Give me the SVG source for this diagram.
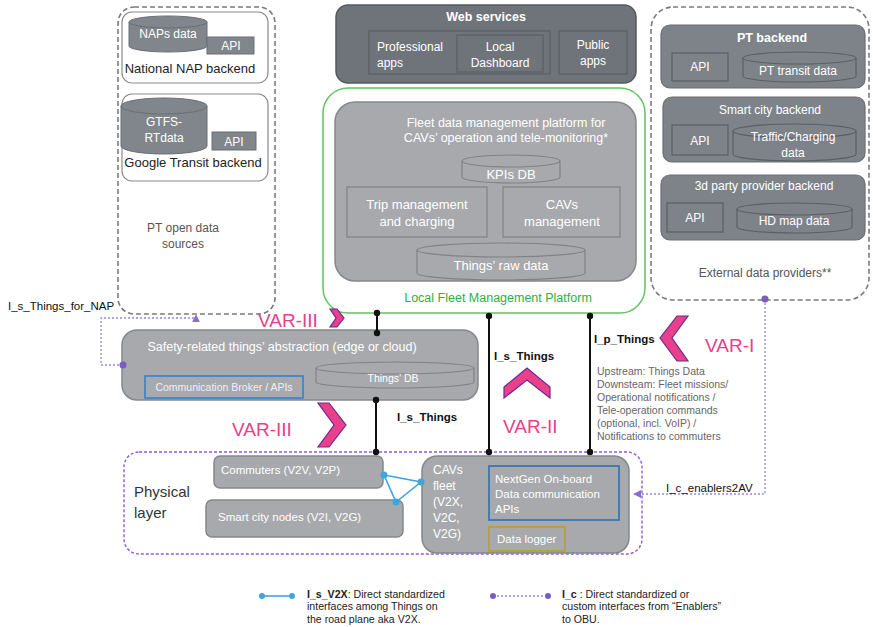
<svg xmlns="http://www.w3.org/2000/svg" width="873" height="627" viewBox="0 0 873 627">
<defs>
<style>
text{font-family:"Liberation Sans",Arial,sans-serif}
.w{fill:#fff}
.k{fill:#222}
.mid{fill:#a7a9ac;stroke:#85888b;stroke-width:1.5}
.dark{fill:#6f747a;stroke:#55595e;stroke-width:1.5}
.ext{fill:#7e8389;stroke:#6a6e73;stroke-width:1.2}
.inr{fill:none;stroke:#5b5f64;stroke-width:1.2}
.inrm{fill:none;stroke:#808386;stroke-width:1.2}
.dash{fill:none;stroke:#7a7a7a;stroke-width:1.6;stroke-dasharray:5 3}
.wb{fill:#fff;stroke:#8a8a8a;stroke-width:1.2}
.blk{stroke:#111;stroke-width:2;fill:none}
.pur{stroke:#9b86d9;stroke-width:1.3;stroke-dasharray:2 2;fill:none}
.v2x{stroke:#3fa5dd;stroke-width:1.6;fill:none}
.chev{fill:#e8408a;stroke:#6b2a94;stroke-width:1.2}
.var{fill:#e8408a;font-size:19px}
.leg{fill:#222;font-size:10.6px}
</style>
<marker id="arr" viewBox="0 0 10 10" refX="9" refY="5" markerWidth="6" markerHeight="6" orient="auto"><path d="M0,0 L10,5 L0,10 z" fill="#8a6fd0"/></marker>
</defs>

<g id="pt-open-data">
<rect x="118" y="7" width="157" height="307" rx="16" class="dash"/>
<g id="nap-backend">
<rect x="122" y="12" width="146" height="71" rx="10" class="wb"/>
<path d="M129,22 a39,6 0 0,1 78,0 v24 a39,6 0 0,1 -78,0 z" fill="#80868c" stroke="#6a6f74"/>
<path d="M129,22 a39,6 0 0,0 78,0" fill="none" stroke="#6a6f74"/>
<text x="168" y="38" class="w" font-size="12" text-anchor="middle">NAPs data</text>
<rect x="207" y="37" width="47" height="17" fill="#80868c" stroke="#6a6f74"/>
<text x="231" y="50" class="w" font-size="12" text-anchor="middle">API</text>
<text x="190" y="73" class="k" font-size="13" text-anchor="middle">National NAP backend</text>
</g>
<g id="google-transit">
<rect x="122" y="94" width="146" height="87" rx="10" class="wb"/>
<path d="M121,106 a43,8 0 0,1 86,0 v40 a43,8 0 0,1 -86,0 z" fill="#80868c" stroke="#6a6f74"/>
<path d="M121,106 a43,8 0 0,0 86,0" fill="none" stroke="#6a6f74"/>
<text x="164" y="126" class="w" font-size="12" text-anchor="middle">GTFS-</text>
<text x="164" y="142" class="w" font-size="12" text-anchor="middle">RTdata</text>
<rect x="212" y="132" width="44" height="18" fill="#80868c" stroke="#6a6f74"/>
<text x="234" y="146" class="w" font-size="12" text-anchor="middle">API</text>
<text x="193" y="167" class="k" font-size="13" text-anchor="middle">Google Transit backend</text>
</g>
<text x="183" y="232" fill="#555" font-size="12" text-anchor="middle">PT open data</text>
<text x="183" y="248" fill="#555" font-size="12" text-anchor="middle">sources</text>
</g>

<g id="web-services">
<rect x="336" y="5" width="300" height="78" rx="12" class="dark"/>
<text x="486" y="21" class="w" font-size="12.5" font-weight="bold" text-anchor="middle">Web services</text>
<rect x="369" y="31" width="181" height="43" class="inr"/>
<rect x="457" y="35" width="86" height="37" class="inr"/>
<rect x="559" y="31" width="68" height="43" class="inr"/>
<text x="377" y="51" class="w" font-size="12">Professional</text>
<text x="377" y="67" class="w" font-size="12">apps</text>
<text x="500" y="51" class="w" font-size="12" text-anchor="middle">Local</text>
<text x="500" y="67" class="w" font-size="12" text-anchor="middle">Dashboard</text>
<text x="593" y="49" class="w" font-size="12" text-anchor="middle">Public</text>
<text x="593" y="65" class="w" font-size="12" text-anchor="middle">apps</text>
</g>

<g id="local-fmp">
<rect x="323" y="88" width="322" height="225" rx="25" fill="#fff" stroke="#62c462" stroke-width="1.5"/>
<rect x="335" y="102" width="301" height="179" rx="20" class="mid"/>
<text x="506" y="127" class="w" font-size="12.5" text-anchor="middle">Fleet data management platform for</text>
<text x="506" y="142" class="w" font-size="12.5" text-anchor="middle">CAVs’ operation and tele-monitoring*</text>
<path d="M462,161 a49,6 0 0,1 98,0 v16 a49,6 0 0,1 -98,0 z" class="inrm"/>
<path d="M462,161 a49,6 0 0,0 98,0" class="inrm"/>
<text x="511" y="179" class="w" font-size="13" text-anchor="middle">KPIs DB</text>
<rect x="347" y="187" width="140" height="50" class="inrm"/>
<text x="417" y="209" class="w" font-size="13" text-anchor="middle">Trip management</text>
<text x="417" y="226" class="w" font-size="13" text-anchor="middle">and charging</text>
<rect x="503" y="187" width="117" height="50" class="inrm"/>
<text x="562" y="209" class="w" font-size="13" text-anchor="middle">CAVs</text>
<text x="562" y="226" class="w" font-size="13" text-anchor="middle">management</text>
<path d="M417,250 a84,7 0 0,1 168,0 v23 a84,7 0 0,1 -168,0 z" class="inrm"/>
<path d="M417,250 a84,7 0 0,0 168,0" class="inrm"/>
<text x="501" y="270" class="w" font-size="13" text-anchor="middle">Things’ raw data</text>
<text x="498" y="302" fill="#2fae4a" font-size="12.5" text-anchor="middle">Local Fleet Management Platform</text>
</g>

<g id="external-providers">
<rect x="651" y="7" width="218" height="293" rx="22" class="dash"/>
<g id="pt-backend">
<rect x="661" y="25" width="204" height="63" rx="9" class="ext"/>
<text x="772" y="42" class="w" font-size="12.5" font-weight="bold" text-anchor="middle">PT backend</text>
<rect x="672" y="53" width="56" height="28" class="inr"/>
<text x="700" y="71" class="w" font-size="12" text-anchor="middle">API</text>
<path d="M743,58 a56.5,6 0 0,1 113,0 v18 a56.5,6 0 0,1 -113,0 z" class="inr"/>
<path d="M743,58 a56.5,6 0 0,0 113,0" class="inr"/>
<text x="798" y="75" class="w" font-size="12" text-anchor="middle">PT transit data</text>
</g>
<g id="smart-city-backend">
<rect x="663" y="97" width="202" height="65" rx="9" class="ext"/>
<text x="770" y="114" class="w" font-size="12" text-anchor="middle">Smart city backend</text>
<rect x="672" y="125" width="56" height="30" class="inr"/>
<text x="700" y="145" class="w" font-size="12" text-anchor="middle">API</text>
<path d="M733,131 a61.5,7 0 0,1 123,0 v23 a61.5,7 0 0,1 -123,0 z" class="inr"/>
<path d="M733,131 a61.5,7 0 0,0 123,0" class="inr"/>
<text x="793" y="141" class="w" font-size="12" text-anchor="middle">Traffic/Charging</text>
<text x="793" y="157" class="w" font-size="12" text-anchor="middle">data</text>
</g>
<g id="third-party-backend">
<rect x="661" y="175" width="204" height="65" rx="9" class="ext"/>
<text x="764" y="190" class="w" font-size="12" text-anchor="middle">3d party provider backend</text>
<rect x="667" y="203" width="56" height="29" class="inr"/>
<text x="695" y="222" class="w" font-size="12" text-anchor="middle">API</text>
<path d="M737,209 a57.5,6 0 0,1 115,0 v18 a57.5,6 0 0,1 -115,0 z" class="inr"/>
<path d="M737,209 a57.5,6 0 0,0 115,0" class="inr"/>
<text x="794" y="225" class="w" font-size="12" text-anchor="middle">HD map data</text>
</g>
<text x="765" y="277" fill="#555" font-size="12" text-anchor="middle">External data providers**</text>
</g>

<g id="safety-abstraction">
<rect x="122" y="330" width="356" height="70" rx="15" class="mid"/>
<text x="282" y="351" class="w" font-size="12.5" text-anchor="middle">Safety-related things’ abstraction (edge or cloud)</text>
<rect x="145" y="376" width="158" height="22" fill="none" stroke="#2f7fcc" stroke-width="1.5"/>
<text x="224" y="391" fill="#eef" font-size="10.5" text-anchor="middle">Communication Broker / APIs</text>
<path d="M316,368 a79,6 0 0,1 158,0 v14 a79,6 0 0,1 -158,0 z" class="inrm"/>
<path d="M316,368 a79,6 0 0,0 158,0" class="inrm"/>
<text x="393" y="382" class="w" font-size="10.5" text-anchor="middle">Things’ DB</text>
</g>

<g id="physical-layer">
<rect x="124" y="452" width="518" height="102" rx="15" fill="none" stroke="#8a5ce0" stroke-width="1.4" stroke-dasharray="3 2"/>
<text x="134" y="497" fill="#333" font-size="15">Physical</text>
<text x="134" y="518" fill="#333" font-size="15">layer</text>
<g id="commuters">
<rect x="214" y="456" width="169" height="32" rx="6" class="mid"/>
<text x="221" y="474" class="w" font-size="11.5">Commuters (V2V, V2P)</text>
</g>
<g id="smart-city-nodes">
<rect x="206" y="500" width="197" height="37" rx="6" class="mid"/>
<text x="218" y="521" class="w" font-size="11.5">Smart city nodes (V2I, V2G)</text>
</g>
<g id="cavs-fleet">
<rect x="422" y="456" width="207" height="97" rx="15" class="mid"/>
<text x="433" y="474" class="w" font-size="12">CAVs</text>
<text x="433" y="490" class="w" font-size="12">fleet</text>
<text x="433" y="506" class="w" font-size="12">(V2X,</text>
<text x="433" y="522" class="w" font-size="12">V2C,</text>
<text x="433" y="538" class="w" font-size="12">V2G)</text>
<rect x="489" y="466" width="130" height="54" fill="none" stroke="#2f6fb8" stroke-width="1.6"/>
<text x="495" y="483" class="w" font-size="11.5">NextGen On-board</text>
<text x="495" y="498" class="w" font-size="11.5">Data communication</text>
<text x="495" y="513" class="w" font-size="11.5">APIs</text>
<rect x="489" y="527" width="76" height="24" fill="none" stroke="#b5a42a" stroke-width="1.6"/>
<text x="497" y="543" class="w" font-size="11.5">Data logger</text>
</g>
</g>

<g id="connectors">
<line x1="377" y1="313" x2="377" y2="333" class="blk"/>
<circle cx="377" cy="313" r="3.2" fill="#111"/>
<circle cx="377" cy="333" r="3.2" fill="#111"/>
<line x1="376" y1="400" x2="376" y2="452" class="blk"/>
<circle cx="376" cy="400" r="3.2" fill="#111"/>
<circle cx="376" cy="452" r="3.2" fill="#111"/>
<line x1="489" y1="316" x2="489" y2="452" class="blk"/>
<circle cx="489" cy="316" r="3.2" fill="#111"/>
<circle cx="489" cy="452" r="3.2" fill="#111"/>
<line x1="590" y1="316" x2="590" y2="452" class="blk"/>
<circle cx="590" cy="316" r="3.2" fill="#111"/>
<circle cx="590" cy="452" r="3.2" fill="#111"/>
<text x="397" y="421" fill="#111" font-size="11.5" font-weight="bold">I_s_Things</text>
<text x="494" y="360" fill="#111" font-size="11.5" font-weight="bold">I_s_Things</text>
<text x="594" y="343" fill="#111" font-size="11.5" font-weight="bold">I_p_Things</text>
<g fill="#666" font-size="10.5">
<text x="597" y="375">Upstream: Things Data</text>
<text x="597" y="388">Downsteam: Fleet missions/</text>
<text x="597" y="401">Operational notifications /</text>
<text x="597" y="414">Tele-operation commands</text>
<text x="597" y="427">(optional, incl. VoIP) /</text>
<text x="597" y="440">Notifications to commuters</text>
</g>
<path d="M123,365 H101 V318 H196 V315" class="pur" marker-end="url(#arr)"/>
<circle cx="123" cy="365" r="3.5" fill="#7a5cc4"/>
<text x="8" y="310" fill="#111" font-size="11.5">I_s_Things_for_NAP</text>
<path d="M765,299 V494 H634" class="pur" marker-end="url(#arr)"/>
<circle cx="765" cy="299" r="3.5" fill="#7a5cc4"/>
<text x="666" y="492" fill="#111" font-size="11.5">I_c_enablers2AV</text>
<g id="v2x-links">
<path d="M384,475 L421,482 L396,502 Z" class="v2x"/>
<circle cx="384" cy="475" r="3.5" fill="#3fa5dd"/>
<circle cx="421" cy="482" r="3.5" fill="#3fa5dd"/>
<circle cx="396" cy="502" r="3.5" fill="#3fa5dd"/>
</g>
</g>

<g id="var-labels">
<text x="258" y="327" class="var">VAR-III</text>
<polygon points="330,309 337,309 344,318 337,327 330,327 336,318" class="chev"/>
<text x="232" y="436" class="var">VAR-III</text>
<polygon points="318,403 329,403 346,425 329,447 318,447 334,425" class="chev"/>
<text x="503" y="433" class="var">VAR-II</text>
<polygon points="504,387 527,368 550,387 550,398 527,380 504,398" class="chev"/>
<text x="705" y="352" class="var">VAR-I</text>
<polygon points="688,316 677,316 660,338 677,361 688,361 672,338" class="chev"/>
</g>

<g id="legend">
<line x1="262" y1="596" x2="292" y2="596" class="v2x"/>
<circle cx="262" cy="596" r="3" fill="#3fa5dd"/>
<circle cx="292" cy="596" r="3" fill="#3fa5dd"/>
<text x="307" y="598" class="leg"><tspan font-weight="bold">I_s_V2X</tspan>: Direct standardized</text>
<text x="307" y="610.3" class="leg">interfaces among Things on</text>
<text x="307" y="622.6" class="leg">the road plane aka V2X.</text>
<line x1="493" y1="596" x2="548" y2="596" class="pur"/>
<circle cx="493" cy="596" r="3" fill="#7a5cc4"/>
<circle cx="548" cy="596" r="3" fill="#7a5cc4"/>
<text x="562" y="598" class="leg"><tspan font-weight="bold">I_c</tspan> : Direct standardized or</text>
<text x="562" y="610.3" class="leg">custom interfaces from “Enablers”</text>
<text x="562" y="622.6" class="leg">to OBU.</text>
</g>
</svg>
